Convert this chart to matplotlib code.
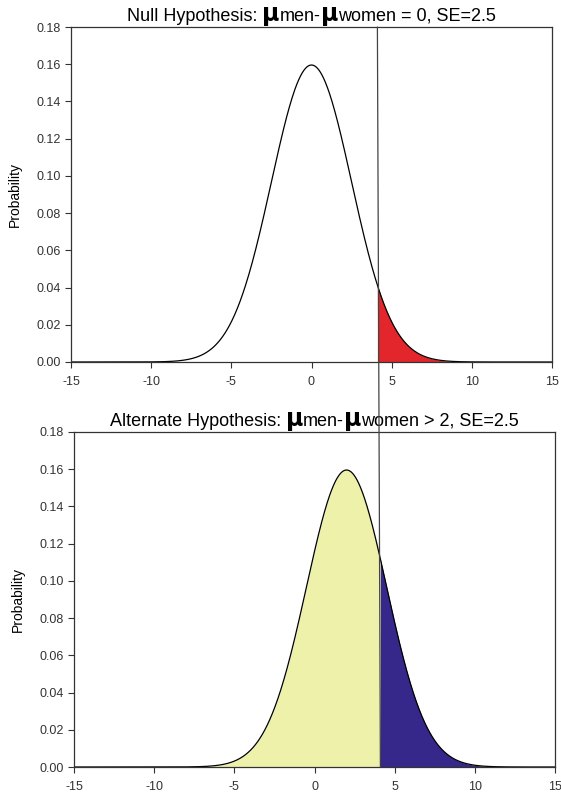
import numpy as np
import matplotlib
matplotlib.use("Agg")
from matplotlib import pyplot as plt
from matplotlib.offsetbox import TextArea, HPacker, AnchoredOffsetbox
from matplotlib.patches import ConnectionPatch

plt.rcParams['font.family'] = ['Liberation Sans', 'DejaVu Sans']
plt.rcParams['axes.unicode_minus'] = False

# distribution parameters
null_mean = 0.0
alt_mean = 2.0
se = 2.5
critical = 4.11          # one-sided 5% cut-off, 1.645 * SE
x_range = (-15, 15)
x_ticks = [-15, -10, -5, 0, 5, 10, 15]
y_ticks = [0.00, 0.02, 0.04, 0.06, 0.08, 0.10, 0.12, 0.14, 0.16, 0.18]
null_title = ["Null Hypothesis: ", "\u03bc", "men-", "\u03bc", "women = 0, SE=2.5"]
alt_title = ["Alternate Hypothesis: ", "\u03bc", "men-", "\u03bc", "women > 2, SE=2.5"]

RED = '#e3262b'
YELLOW = '#eef1a9'
BLUE = '#35288a'


def normal_pdf(x, mu, sd):
    return np.exp(-0.5 * ((x - mu) / sd) ** 2) / (sd * np.sqrt(2 * np.pi))


def fancy_title(ax, parts):
    boxes = []
    for p in parts:
        if p == "\u03bc":
            boxes.append(TextArea(p, textprops=dict(size=17, family='DejaVu Sans',
                                                    weight='bold')))
        else:
            boxes.append(TextArea(p, textprops=dict(size=13)))
    pack = HPacker(children=boxes, align="baseline", pad=0, sep=0)
    anchored = AnchoredOffsetbox(loc='lower center', child=pack, pad=0, frameon=False,
                                 bbox_to_anchor=(0.5, 1.0), bbox_transform=ax.transAxes,
                                 borderpad=0.1)
    ax.add_artist(anchored)


def style_axes(ax):
    ax.set_xlim(*x_range)
    ax.set_ylim(y_ticks[0], y_ticks[-1])
    ax.set_xticks(x_ticks)
    ax.set_yticks(y_ticks)
    ax.set_yticklabels(["%.2f" % v for v in y_ticks])
    ax.tick_params(direction='out', length=4, width=0.8, labelsize=9, colors='#333333')
    ax.tick_params(axis='x', pad=6)
    ax.set_ylabel('Probability', fontsize=10, labelpad=10)
    for s in ax.spines.values():
        s.set_linewidth(0.9)
        s.set_color('#333333')


fig = plt.figure(figsize=(5.61, 7.92), dpi=100)
W, H = 561.0, 792.0
ax1 = fig.add_axes([71 / W, 1 - 362 / H, 481 / W, 335 / H])
ax2 = fig.add_axes([74 / W, 1 - 767 / H, 481 / W, 335 / H])

x = np.linspace(x_range[0], x_range[1], 1201)

# null hypothesis
y0 = normal_pdf(x, null_mean, se)
ax1.plot(x, y0, color='black', lw=0.9)
tail = x >= critical
xt = np.concatenate([[critical], x[tail]])
ax1.fill_between(xt, 0, normal_pdf(xt, null_mean, se), color=RED, lw=0)
style_axes(ax1)
fancy_title(ax1, null_title)

# alternate hypothesis
y1 = normal_pdf(x, alt_mean, se)
left = x <= critical
xl = np.concatenate([x[left], [critical]])
ax2.fill_between(xl, 0, normal_pdf(xl, alt_mean, se), color=YELLOW, lw=0)
ax2.fill_between(xt, 0, normal_pdf(xt, alt_mean, se), color=BLUE, lw=0)
ax2.plot(x, y1, color='black', lw=0.9)
style_axes(ax2)
fancy_title(ax2, alt_title)

# critical value line running through both panels
con = ConnectionPatch(xyA=(critical, y_ticks[-1]), coordsA=ax1.transData,
                      xyB=(critical, 0), coordsB=ax2.transData,
                      color='#444444', lw=0.9)
fig.add_artist(con)

fig.savefig('out.png', dpi=100)
